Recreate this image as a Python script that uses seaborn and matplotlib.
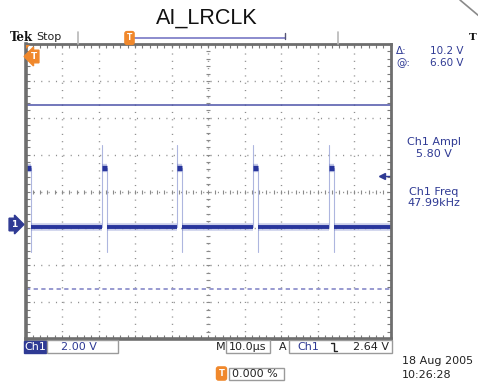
import numpy as np
import pandas as pd
import matplotlib
matplotlib.use('Agg')
import matplotlib.pyplot as plt
import seaborn as sns
from matplotlib.patches import Rectangle, Polygon
from matplotlib.lines import Line2D

# screen data
title = 'AI_LRCLK'
time_window_us = [-50, 50]          # 10 div x 10.0 us
volt_window = [-6.2, 9.8]           # 8 div x 2.00 V
pulse_rise_us = [-49.9, -29.1, -8.4, 12.4, 33.2]
pulse_fall_us = [-48.6, -27.8, -7.1, 13.7, 34.4]
low_level_v = -0.15
high_level_v = 3.05
overshoot_v = 4.3
undershoot_v = -1.5
cursor_levels_v = [6.5, -3.5]
trigger_level_v = 2.64

cursor_labels = ['\u0394:', '@:']
cursor_values = ['10.2 V', '6.60 V']
meas_labels = ['Ch1 Ampl', 'Ch1 Freq']
meas_values = ['5.80 V', '47.99kHz']
date_lines = ['18 Aug 2005', '10:26:28']

W, H = 478, 386
BLUE = '#2f3a94'
TRACE = '#28359c'
HALO = '#6b78c4'
ORANGE = '#f0882c'
GRID = '#8e8e8e'


def fx(x):
    return x / W


def fy(y):
    return 1 - y / H


# build trace segments
low_rows, high_rows, edge_rows = [], [], []
starts = [time_window_us[0]] + pulse_fall_us
ends = pulse_rise_us + [time_window_us[1]]
for i, (s, e) in enumerate(zip(starts, ends)):
    if e > s:
        low_rows += [(i, s, low_level_v), (i, e, low_level_v)]
for i, (r, f) in enumerate(zip(pulse_rise_us, pulse_fall_us)):
    high_rows += [(i, r, high_level_v), (i, f, high_level_v)]
    edge_rows += [(2 * i, r, low_level_v), (2 * i, r, overshoot_v),
                  (2 * i + 1, f, high_level_v), (2 * i + 1, f, undershoot_v)]
low_df = pd.DataFrame(low_rows, columns=['seg', 't', 'v'])
high_df = pd.DataFrame(high_rows, columns=['seg', 't', 'v'])
edge_df = pd.DataFrame(edge_rows, columns=['seg', 't', 'v'])

sns.set_style('white')
plt.rcParams['font.family'] = ['DejaVu Sans']

fig = plt.figure(figsize=(W / 100, H / 100), dpi=100)
ax = fig.add_axes([fx(25.5), fy(339), 365 / W, 295 / H])

# graticule
ax.set_xticks(np.linspace(*time_window_us, 11))
ax.set_xticks(np.linspace(*time_window_us, 51), minor=True)
ax.set_yticks(np.linspace(*volt_window, 9))
ax.set_yticks(np.linspace(*volt_window, 41), minor=True)
ax.grid(axis='x', which='major', color=GRID, linestyle=(0, (0.8, 4.46)), linewidth=1)
ax.grid(axis='y', which='major', color=GRID, linestyle=(0, (0.8, 4.5)), linewidth=1)
ax.set_axisbelow(True)
xc = np.mean(time_window_us)
yc = np.mean(volt_window)
xm = np.linspace(*time_window_us, 51)
ym = np.linspace(*volt_window, 41)
ax.plot(xm, np.full(len(xm), yc), ls='', marker='|', ms=3.5, mew=0.8, color='#8a8a8a', zorder=1)
ax.plot(np.full(len(ym), xc), ym, ls='', marker='_', ms=3.5, mew=0.8, color='#8a8a8a', zorder=1)

# cursors
ax.axhline(cursor_levels_v[0], color='#4b52a8', lw=1.1, zorder=2)
ax.axhline(cursor_levels_v[1], color='#7c7fc4', lw=1.1, ls=(0, (2.8, 2.2)), zorder=2)

# waveform
sns.lineplot(data=edge_df, x='t', y='v', units='seg', estimator=None, sort=False,
             color='#9aa4d8', lw=0.8, alpha=0.8, ax=ax, legend=False)
sns.lineplot(data=low_df, x='t', y='v', units='seg', estimator=None, sort=False,
             color=HALO, lw=5.5, alpha=0.35, ax=ax, legend=False, solid_capstyle='butt')
sns.lineplot(data=low_df, x='t', y='v', units='seg', estimator=None, sort=False,
             color=TRACE, lw=2.8, ax=ax, legend=False, solid_capstyle='butt')
sns.lineplot(data=high_df, x='t', y='v', units='seg', estimator=None, sort=False,
             color=HALO, lw=6, alpha=0.4, ax=ax, legend=False, solid_capstyle='butt')
sns.lineplot(data=high_df, x='t', y='v', units='seg', estimator=None, sort=False,
             color=TRACE, lw=3.8, ax=ax, legend=False, solid_capstyle='butt')

ax.set_xlim(*time_window_us)
ax.set_ylim(*volt_window)
ax.set(xlabel='', ylabel='')
ax.tick_params(which='both', direction='in', length=3, width=0.8, color='#7a7a7a',
               top=True, right=True, bottom=True, left=True,
               labelbottom=False, labelleft=False)
for s in ax.spines.values():
    s.set_color('#6e6e6e')
    s.set_linewidth(2)
ax.spines['left'].set_linewidth(2.6)
ax.spines['bottom'].set_linewidth(2.6)

# trigger level arrow on right edge
ty = ax.get_yaxis_transform()
ax.plot([0.978, 1.0], [trigger_level_v] * 2, color=BLUE, lw=1, transform=ty, clip_on=False)
ax.plot([0.978], [trigger_level_v], marker='<', ms=5, color=BLUE, transform=ty, clip_on=False)

# title
fig.text(fx(207), fy(18.5), title, ha='center', va='center', fontsize=15.5,
         family='Liberation Sans', color='#111111')

# top status bar
fig.text(fx(10), fy(37.5), 'Tek', ha='left', va='center', fontsize=8.5,
         family='DejaVu Serif', weight='bold', color='#111111')
fig.text(fx(36), fy(37.5), 'Stop', ha='left', va='center', fontsize=8, color='#222222')
for x in [77.5, 338]:
    fig.add_artist(Line2D([fx(x)] * 2, [fy(32), fy(44)], transform=fig.transFigure,
                          color='#b8b8b8', lw=1.2))
fig.add_artist(Line2D([fx(133), fx(285)], [fy(38)] * 2, transform=fig.transFigure,
                      color='#6c6cc0', lw=1.1))
fig.add_artist(Line2D([fx(285)] * 2, [fy(32.5), fy(38.5)], transform=fig.transFigure,
                      color='#555577', lw=1))
fig.text(fx(129.5), fy(38), 'T', ha='center', va='center', fontsize=5.5, color='white',
         weight='bold', bbox=dict(boxstyle='round,pad=0.25', fc=ORANGE, ec=ORANGE))

# trigger position marker in the graticule
fig.add_artist(Polygon([[fx(26), fy(45)], [fx(30), fy(45)], [fx(26), fy(49)]],
                       closed=True, transform=fig.transFigure, fc=ORANGE, ec='none'))
fig.text(fx(34), fy(56.5), 'T', ha='center', va='center', fontsize=6.5, color='white',
         weight='bold', bbox=dict(boxstyle='larrow,pad=0.2', fc=ORANGE, ec=ORANGE))

# channel 1 ground marker
fig.text(fx(14), fy(224.5), '1', ha='center', va='center', fontsize=6.5, color='white',
         weight='bold', bbox=dict(boxstyle='rarrow,pad=0.2', fc=BLUE, ec=BLUE))

# cursor readouts
for i, (lab, val) in enumerate(zip(cursor_labels, cursor_values)):
    y = 51.5 + 11.5 * i
    fig.text(fx(396), fy(y), lab, ha='left', va='center', fontsize=7.5, color=BLUE)
    fig.text(fx(463), fy(y), val, ha='right', va='center', fontsize=7.5, color=BLUE)

# measurements
for i, (lab, val) in enumerate(zip(meas_labels, meas_values)):
    y = 142 + 50 * i
    fig.text(fx(434), fy(y), lab, ha='center', va='center', fontsize=8, color=BLUE)
    fig.text(fx(434), fy(y + 11.5), val, ha='center', va='center', fontsize=8, color=BLUE)


# bottom readout boxes
def box(x0, y0, x1, y1, fc='white', ec='#9a9a9a'):
    fig.add_artist(Rectangle((fx(x0), fy(y1)), (x1 - x0) / W, (y1 - y0) / H,
                             transform=fig.transFigure, fc=fc, ec=ec, lw=1))


box(24, 341, 46, 352.5, fc=BLUE, ec=BLUE)
fig.text(fx(35), fy(346.8), 'Ch1', ha='center', va='center', fontsize=8, color='white')
box(47, 340, 118, 353)
fig.text(fx(79), fy(346.8), '2.00 V', ha='center', va='center', fontsize=8, color=BLUE)
fig.text(fx(221), fy(346.8), 'M', ha='center', va='center', fontsize=8, color='#222222')
box(226, 340, 269.5, 353)
fig.text(fx(248), fy(346.8), '10.0\u00b5s', ha='center', va='center', fontsize=8, color='#222222')
fig.text(fx(283), fy(346.8), 'A', ha='center', va='center', fontsize=8, color='#222222')
box(289, 340, 391.5, 353)
fig.text(fx(308), fy(346.8), 'Ch1', ha='center', va='center', fontsize=8, color=BLUE)
fig.add_artist(Line2D([fx(330.5), fx(333.5), fx(333.5), fx(336.5)],
                      [fy(343), fy(343), fy(350.5), fy(350.5)],
                      transform=fig.transFigure, color='#222222', lw=1))
fig.text(fx(389), fy(346.8), '2.64 V', ha='right', va='center', fontsize=8, color='#222222')

fig.text(fx(221.5), fy(373.5), 'T', ha='center', va='center', fontsize=6, color='white',
         weight='bold', bbox=dict(boxstyle='round,pad=0.25', fc=ORANGE, ec=ORANGE))
box(229, 368, 283.5, 379.5)
fig.text(fx(232), fy(374), '0.000 %', ha='left', va='center', fontsize=8, color='#222222')

for i, line in enumerate(date_lines):
    fig.text(fx(402), fy(361 + 14.5 * i), line, ha='left', va='center',
             fontsize=8, color='#222222')

# stray edge artefacts of the capture
fig.add_artist(Line2D([fx(460), fx(479)], [fy(0), fy(16)], transform=fig.transFigure,
                      color='#8a8a8a', lw=1.2))
fig.text(fx(476.5), fy(37.5), 'T', ha='right', va='center', fontsize=7.5,
         family='DejaVu Serif', weight='bold', color='#111111')

fig.savefig('out.png', dpi=100)
